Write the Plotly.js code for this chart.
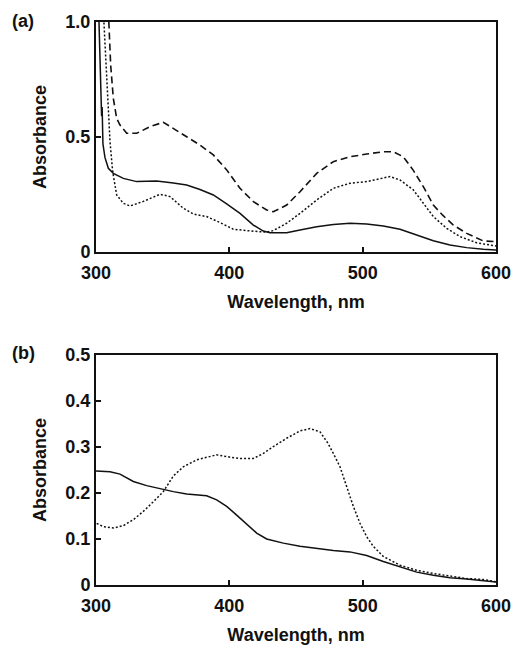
<!DOCTYPE html>
<html>
<head>
<meta charset="utf-8">
<script src="https://cdn.plot.ly/plotly-3.0.1.min.js"></script>
<style>html,body{margin:0;padding:0;background:#fff}#chart{width:524px;height:655px}</style>
</head>
<body>
<div id="chart"></div>
<script>
// ---- Panel (a) data ----
const waveA_solid = [302, 303.5, 304.2, 304.6, 305.2, 306.75, 309.25, 313, 320.5, 330.5, 345.5, 358, 368, 378, 388, 398, 408, 418, 425.5, 430.5, 443, 453, 465.5, 478, 490.5, 503, 515.5, 528, 540.5, 553, 565.5, 578, 590.5, 600];
const absA_solid  = [1.05, 0.65, 0.59, 0.63, 0.47, 0.41, 0.364, 0.342, 0.32, 0.306, 0.309, 0.30, 0.291, 0.272, 0.248, 0.209, 0.168, 0.117, 0.091, 0.084, 0.084, 0.096, 0.11, 0.12, 0.125, 0.122, 0.113, 0.099, 0.075, 0.049, 0.030, 0.019, 0.012, 0.009];

const waveA_dash = [309.25, 311, 313, 315.5, 318, 323, 330.5, 340.5, 350.5, 360.5, 368, 378, 388, 398, 408, 418, 428, 433, 443, 453, 465.5, 478, 490.5, 503, 515.5, 523, 530.5, 538, 545.5, 553, 560, 568, 578, 590.5, 600];
const absA_dash  = [1.05, 0.813, 0.668, 0.581, 0.552, 0.516, 0.516, 0.545, 0.564, 0.53, 0.501, 0.465, 0.422, 0.357, 0.277, 0.219, 0.183, 0.175, 0.204, 0.262, 0.342, 0.393, 0.414, 0.426, 0.436, 0.436, 0.414, 0.355, 0.284, 0.204, 0.16, 0.117, 0.081, 0.048, 0.045];

const waveA_dot = [305.5, 308, 310.5, 312.5, 315.5, 320.5, 325.5, 335.5, 343, 348, 355.5, 365.5, 373, 383, 393, 403, 413, 428, 433, 443, 453, 465.5, 478, 490.5, 503, 515.5, 520.5, 528, 538, 545.5, 553, 563, 573, 585.5, 600];
const absA_dot  = [1.05, 0.74, 0.48, 0.35, 0.248, 0.212, 0.2, 0.22, 0.24, 0.251, 0.241, 0.19, 0.165, 0.154, 0.128, 0.099, 0.093, 0.086, 0.093, 0.125, 0.168, 0.226, 0.277, 0.299, 0.306, 0.32, 0.328, 0.313, 0.27, 0.212, 0.154, 0.103, 0.067, 0.04, 0.026];

// ---- Panel (b) data ----
const waveB_solid = [300, 310.5, 318, 328, 338, 348, 358, 368, 378, 383, 390.5, 398, 405.5, 413, 420.5, 428, 440.5, 453, 465.5, 478, 490.5, 503, 515.5, 528, 540.5, 553, 565.5, 578, 590.5, 600];
const absB_solid  = [0.248, 0.246, 0.241, 0.225, 0.216, 0.209, 0.203, 0.198, 0.195, 0.194, 0.185, 0.171, 0.152, 0.133, 0.113, 0.1, 0.091, 0.084, 0.079, 0.075, 0.072, 0.064, 0.051, 0.039, 0.028, 0.021, 0.016, 0.013, 0.010, 0.0065];

const waveB_dot = [300.5, 305.5, 313, 320.5, 328, 335.5, 343, 350.5, 358, 365.5, 375.5, 385.5, 390.5, 398, 408, 418, 425.5, 433, 443, 453, 460.5, 468, 474, 478, 483, 488, 493, 498, 503, 508, 515.5, 528, 540.5, 553, 565.5, 578, 590.5, 600];
const absB_dot  = [0.134, 0.127, 0.124, 0.129, 0.142, 0.160, 0.181, 0.203, 0.237, 0.257, 0.272, 0.280, 0.283, 0.279, 0.275, 0.275, 0.286, 0.301, 0.319, 0.335, 0.34, 0.333, 0.308, 0.286, 0.257, 0.214, 0.171, 0.134, 0.105, 0.084, 0.062, 0.043, 0.032, 0.025, 0.019, 0.014, 0.012, 0.007];

// ---- Tick labels ----
const xTickVals = [300, 400, 500, 600];
const xTickText = ['300', '400', '500', '600'];
const yTickValsA = [0, 0.5, 1.0];
const yTickTextA = ['0', '0.5', '1.0'];
const yTickValsB = [0, 0.1, 0.2, 0.3, 0.4, 0.5];
const yTickTextB = ['0', '0.1', '0.2', '0.3', '0.4', '0.5'];

const FONT = 'Liberation Sans, Arial, Helvetica, sans-serif';
const boldFont = {family: FONT, size: 18, color: '#111', weight: 'bold'};

const solidLine = {color: '#111', width: 1.5};
const dashLine = {color: '#111', width: 1.6, dash: '7px,4px'};
const dotLine = {color: '#111', width: 1.5, dash: '2px,2px'};

const traces = [
  {x: waveA_solid, y: absA_solid, xaxis: 'x', yaxis: 'y', mode: 'lines', line: solidLine},
  {x: waveA_dash, y: absA_dash, xaxis: 'x', yaxis: 'y', mode: 'lines', line: dashLine},
  {x: waveA_dot, y: absA_dot, xaxis: 'x', yaxis: 'y', mode: 'lines', line: dotLine},
  {x: waveB_solid, y: absB_solid, xaxis: 'x2', yaxis: 'y2', mode: 'lines', line: solidLine},
  {x: waveB_dot, y: absB_dot, xaxis: 'x2', yaxis: 'y2', mode: 'lines', line: dotLine}
];

function xAxis(anchor) {
  return {
    domain: [96/524, 496/524], anchor: anchor, range: [300, 600],
    tickmode: 'array', tickvals: xTickVals, ticktext: xTickText,
    ticks: 'inside', ticklen: 5, tickwidth: 2, tickcolor: '#111',
    showline: true, linewidth: 2, linecolor: '#111', mirror: true,
    showgrid: false, zeroline: false, tickfont: boldFont, ticklabelstandoff: 3,
    title: {text: 'Wavelength, nm', font: boldFont, standoff: 14}
  };
}
function yAxis(anchor, dom, rng, vals, text) {
  return {
    domain: dom, anchor: anchor, range: rng,
    tickmode: 'array', tickvals: vals, ticktext: text,
    ticks: 'inside', ticklen: 5, tickwidth: 2, tickcolor: '#111',
    showline: true, linewidth: 2, linecolor: '#111', mirror: true,
    showgrid: false, zeroline: false, tickfont: boldFont,
    title: {text: 'Absorbance', font: boldFont, standoff: 14}
  };
}

const layout = {
  width: 524, height: 655,
  margin: {l: 0, r: 0, t: 0, b: 0},
  paper_bgcolor: '#fff', plot_bgcolor: '#fff',
  showlegend: false,
  xaxis: xAxis('y'),
  yaxis: yAxis('x', [1 - 252/655, 1 - 22/655], [0, 1.0], yTickValsA, yTickTextA),
  xaxis2: xAxis('y2'),
  yaxis2: yAxis('x2', [1 - 585/655, 1 - 355/655], [0, 0.5], yTickValsB, yTickTextB),
  annotations: [
    {text: '(a)', xref: 'paper', yref: 'paper', x: 10/524, y: 1 - 21/655, xanchor: 'left', yanchor: 'middle', showarrow: false, font: boldFont},
    {text: '(b)', xref: 'paper', yref: 'paper', x: 10/524, y: 1 - 353/655, xanchor: 'left', yanchor: 'middle', showarrow: false, font: boldFont}
  ]
};

Plotly.newPlot('chart', traces, layout, {displayModeBar: false, staticPlot: true});
</script>
</body>
</html>
